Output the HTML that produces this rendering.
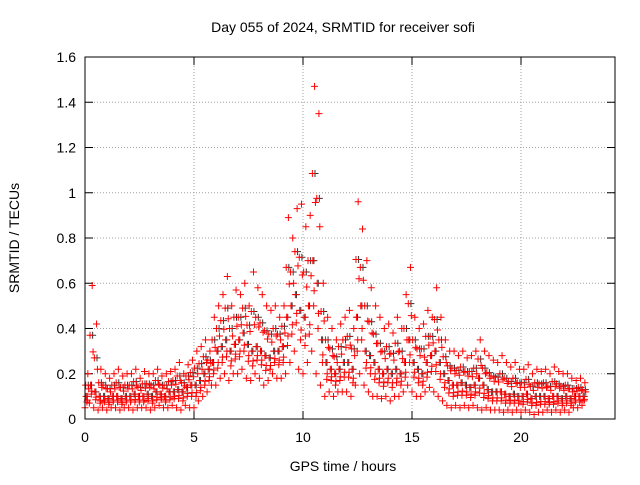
<!DOCTYPE html>
<html><head><meta charset="utf-8"><style>
body{margin:0;background:#fff}
svg text{font-family:"Liberation Sans",sans-serif;font-size:14px;fill:#000}
</style></head><body>
<svg id="c" width="640" height="480"></svg>
<script>
const hiVals=[0.2,0.59,0.42,0.22,0.2,0.18,0.2,0.22,0.19,0.2,0.2,0.22,0.18,0.21,0.2,0.2,0.22,0.19,0.2,0.21,0.22,0.25,0.2,0.24,0.26,0.3,0.32,0.35,0.3,0.45,0.5,0.55,0.63,0.5,0.57,0.55,0.6,0.5,0.65,0.58,0.55,0.5,0.48,0.5,0.45,0.5,0.89,0.8,0.93,0.95,0.85,0.9,1.47,1.35,0.6,0.45,0.4,0.35,0.42,0.45,0.48,0.4,0.96,0.84,0.7,0.58,0.5,0.45,0.4,0.42,0.38,0.45,0.4,0.55,0.67,0.45,0.4,0.42,0.48,0.45,0.58,0.45,0.35,0.3,0.3,0.28,0.3,0.27,0.28,0.3,0.35,0.3,0.28,0.26,0.25,0.28,0.25,0.23,0.25,0.22,0.22,0.24,0.2,0.22,0.21,0.22,0.2,0.23,0.21,0.2,0.2,0.18,0.17,0.18,0.16];
const midVals=[0.1,0.15,0.12,0.1,0.1,0.09,0.1,0.1,0.09,0.1,0.1,0.11,0.1,0.1,0.11,0.1,0.12,0.11,0.1,0.12,0.12,0.13,0.12,0.14,0.15,0.15,0.17,0.2,0.22,0.25,0.3,0.32,0.35,0.3,0.33,0.35,0.38,0.33,0.3,0.32,0.3,0.28,0.27,0.3,0.3,0.32,0.45,0.5,0.55,0.48,0.45,0.5,0.7,0.6,0.35,0.25,0.22,0.2,0.22,0.25,0.25,0.22,0.45,0.5,0.3,0.28,0.25,0.22,0.2,0.22,0.2,0.22,0.2,0.25,0.35,0.25,0.22,0.2,0.25,0.28,0.3,0.25,0.2,0.17,0.15,0.15,0.16,0.15,0.14,0.15,0.18,0.15,0.13,0.12,0.12,0.12,0.11,0.1,0.11,0.1,0.1,0.11,0.09,0.1,0.1,0.1,0.09,0.1,0.1,0.09,0.1,0.09,0.1,0.1,0.1];
const loVals=[0.05,0.07,0.05,0.04,0.05,0.04,0.05,0.05,0.04,0.05,0.05,0.04,0.05,0.05,0.05,0.04,0.05,0.06,0.05,0.05,0.06,0.05,0.04,0.06,0.05,0.05,0.08,0.1,0.12,0.15,0.15,0.18,0.2,0.17,0.2,0.2,0.22,0.18,0.17,0.2,0.18,0.15,0.17,0.2,0.18,0.18,0.2,0.25,0.3,0.22,0.2,0.25,0.3,0.2,0.15,0.1,0.12,0.1,0.12,0.12,0.12,0.1,0.15,0.2,0.15,0.12,0.1,0.1,0.09,0.1,0.08,0.1,0.1,0.12,0.15,0.12,0.1,0.1,0.12,0.14,0.12,0.1,0.08,0.06,0.05,0.06,0.05,0.06,0.05,0.06,0.05,0.04,0.05,0.04,0.04,0.04,0.03,0.04,0.03,0.04,0.03,0.04,0.03,0.02,0.03,0.03,0.04,0.03,0.04,0.03,0.04,0.03,0.05,0.05,0.06];
const tStart=0, tStep=0.2;
const yTicks=[0,0.2,0.4,0.6,0.8,1,1.2,1.4,1.6];
const xTicks=[0,5,10,15,20];

const L=85,R=615,T=57,B=419,XMAX=530/21.8,YMAX=1.6;
const X=v=>L+v/XMAX*(R-L), Y=v=>B-v/YMAX*(B-T);
const svg=document.getElementById('c'),NS='http://www.w3.org/2000/svg';
function mk(tag,a,p){const e=document.createElementNS(NS,tag);for(const k in a)e.setAttribute(k,a[k]);(p||svg).appendChild(e);return e;}
const grid=mk('g',{});


yTicks.forEach(v=>{
 if(v>0&&v<1.6)mk('line',{x1:L,x2:R,y1:Y(v),y2:Y(v),stroke:'#a0a0a0','stroke-dasharray':'1,2'},grid);
 mk('line',{x1:L,x2:L+8,y1:Y(v),y2:Y(v),stroke:'#000'},grid);
 mk('line',{x1:R,x2:R-8,y1:Y(v),y2:Y(v),stroke:'#000'},grid);
 const t=mk('text',{x:L-9,y:Y(v)+5,'text-anchor':'end'});
 
 
 t.textContent=String(v);
});
xTicks.forEach(v=>{
 if(v>0)mk('line',{x1:X(v),x2:X(v),y1:T,y2:B,stroke:'#a0a0a0','stroke-dasharray':'1,2'},grid);
 mk('line',{x1:X(v),x2:X(v),y1:B,y2:B-8,stroke:'#000'},grid);
 mk('line',{x1:X(v),x2:X(v),y1:T,y2:T+8,stroke:'#000'},grid);
 const t=mk('text',{x:X(v),y:B+23,'text-anchor':'middle'});
 
 
 t.textContent=String(v);
});
const pts=mk('g',{});


function plus(x,y,c){const p=mk('path',{d:`M${x-3.5},${y}h7M${x},${y-3.5}v7`,stroke:c,'stroke-width':1},pts);
 
 }
hiVals.forEach((h,i)=>{
 const t=tStart+i*tStep,m=midVals[i],l=loVals[i];
 plus(X(t+0.1),Y(m),'#333');
 plus(X(t+0.15),Y((m+h)/2),'#333');
});
hiVals.forEach((h,i)=>{
 const t=tStart+i*tStep,m=midVals[i],l=loVals[i];
 plus(X(t),Y(l),'#f00');
 plus(X(t+0.05),Y(m),'#f00');
 plus(X(t+0.13),Y(h),'#f00');
 plus(X(t+0.09),Y((l+m)/2),'#f00');
 plus(X(t+0.03),Y((m+h)/2),'#f00');
 plus(X(t+0.17),Y((2*m+h)/3),'#f00');
 plus(X(t+0.11),Y((l+2*m)/3),'#f00');
});
const fr=mk('rect',{x:L,y:T,width:R-L,height:B-T,fill:'none',stroke:'#000'});


const ti=mk('text',{x:343,y:32,'text-anchor':'middle'});ti.textContent='Day 055 of 2024, SRMTID for receiver sofi';


const xl=mk('text',{x:343,y:471,'text-anchor':'middle'});xl.textContent='GPS time / hours';


const yl=mk('text',{x:0,y:0,'text-anchor':'middle',transform:'translate(19,238) rotate(-90)'});yl.textContent='SRMTID / TECUs';


</script>
</body></html>
